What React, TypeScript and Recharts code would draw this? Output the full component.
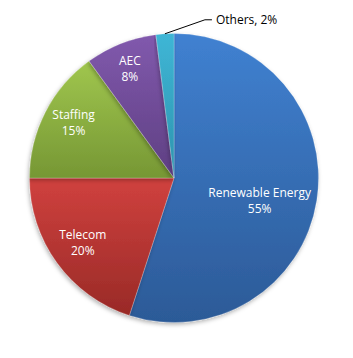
import React from 'react';
import { PieChart, Pie, Cell } from 'recharts';

const categories = ['Renewable Energy', 'Telecom', 'Staffing', 'AEC', 'Others'];
const shares = [55, 20, 15, 8, 2];

const gradients = [
  { id: 'gBlue', top: '#4081d1', bottom: '#2c5a97' },
  { id: 'gRed', top: '#d0413e', bottom: '#992a27' },
  { id: 'gGreen', top: '#a0c64e', bottom: '#769734' },
  { id: 'gPurple', top: '#8159ad', bottom: '#5e3f82' },
  { id: 'gCyan', top: '#3fb6d6', bottom: '#2d93ad' },
];

// label placement style (radius factor and vertical nudge) per slice, like Excel "best fit"
const labelStyle = [
  { f: 0.6, dy: 8 },
  { f: 0.78, dy: -2 },
  { f: 0.78, dy: -5 },
  { f: 0.83, dy: 2 },
  { f: 1, dy: 0 },
];

const data = categories.map((name, i) => ({ name, value: shares[i] }));
const total = shares.reduce((a, b) => a + b, 0);
const RAD = Math.PI / 180;
const FONT = '"Open Sans", "Liberation Sans", sans-serif';

const renderLabel = (props: any) => {
  const { cx, cy, midAngle, outerRadius, value, name, index } = props;
  const pct = Math.round((value / total) * 100);
  const cos = Math.cos(-midAngle * RAD);
  const sin = Math.sin(-midAngle * RAD);
  if (pct < 5) {
    const sx = cx + outerRadius * cos;
    const sy = cy + outerRadius * sin;
    const ex = sx + 40;
    const ey = sy - 14;
    return (
      <g key={`l-${index}`}>
        <polyline points={`${sx},${sy} ${ex},${ey} ${ex + 7},${ey}`} fill="none" stroke="#000" strokeWidth={1} />
        <text x={ex + 11} y={ey} dominantBaseline="central" fill="#000" fontFamily={FONT} fontSize={12}>
          {`${name}, ${pct}%`}
        </text>
      </g>
    );
  }
  const st = labelStyle[index] || { f: 0.78, dy: 0 };
  const x = cx + outerRadius * st.f * cos;
  const y = cy + outerRadius * st.f * sin + st.dy;
  return (
    <text key={`l-${index}`} x={x} y={y} textAnchor="middle" fill="#fff" fontFamily={FONT} fontSize={12}>
      <tspan x={x} dy={-3}>{name}</tspan>
      <tspan x={x} dy={16}>{`${pct}%`}</tspan>
    </text>
  );
};

export default function App() {
  return (
    <div style={{ position: 'absolute', left: 0, top: 0, width: 353, height: 358, background: '#fff' }}>
      <PieChart width={353} height={358} margin={{ top: 0, right: 0, bottom: 0, left: 0 }}>
        <defs>
          {gradients.map((g) => (
            <linearGradient key={g.id} id={g.id} x1="0" y1="0" x2="0" y2="1">
              <stop offset="0%" stopColor={g.top} />
              <stop offset="100%" stopColor={g.bottom} />
            </linearGradient>
          ))}
          <filter id="shadow" x="-10%" y="-10%" width="120%" height="120%">
            <feDropShadow dx="-1" dy="2" stdDeviation="2" floodColor="#000" floodOpacity="0.3" />
          </filter>
        </defs>
        <Pie
          data={data}
          dataKey="value"
          nameKey="name"
          cx={174}
          cy={178}
          outerRadius={144.5}
          startAngle={90}
          endAngle={-270}
          stroke="rgba(255,255,255,0.35)"
          strokeWidth={0.6}
          label={renderLabel}
          labelLine={false}
          isAnimationActive={false}
          style={{ filter: 'url(#shadow)' }}
        >
          {data.map((d, i) => (
            <Cell key={d.name} fill={`url(#${gradients[i].id})`} />
          ))}
        </Pie>
      </PieChart>
    </div>
  );
}
